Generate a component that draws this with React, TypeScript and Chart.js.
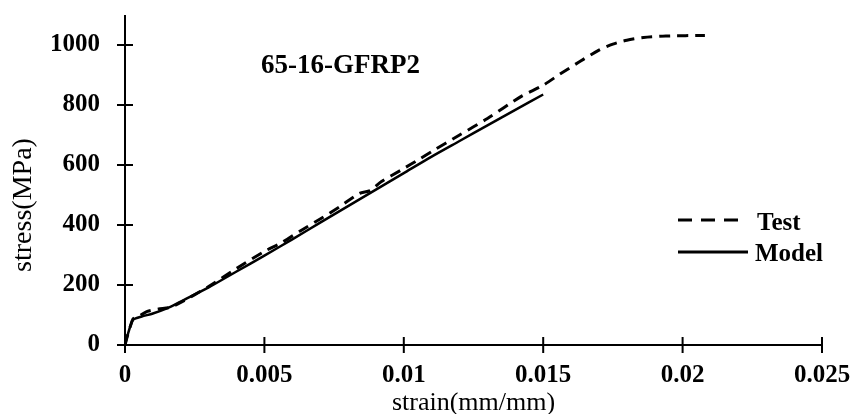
import { useEffect, useRef } from "react";
import { Chart, registerables } from "chart.js";

Chart.register(...registerables);

// Measured stress–strain curve of specimen 65-16-GFRP2
const testStrain = [0, 0.0001, 0.0002, 0.0003, 0.0005, 0.0008, 0.0012, 0.0016, 0.002, 0.003, 0.004, 0.005, 0.0056, 0.0063, 0.007, 0.0077, 0.0084, 0.0088, 0.0092, 0.0099, 0.0106, 0.011, 0.012, 0.013, 0.0142, 0.015, 0.0156, 0.0163, 0.017, 0.0175, 0.018, 0.0186, 0.0194, 0.0208];
const testStress = [0, 35, 65, 88, 96, 112, 120, 125, 142, 195, 255, 312, 340, 381, 420, 461, 505, 515, 545, 583, 622, 645, 700, 755, 828, 866, 903, 944, 983, 1003, 1016, 1025, 1030, 1032];

// Predicted curve
const modelStrain = [0, 0.0001, 0.0002, 0.0003, 0.0006, 0.001, 0.0015, 0.002, 0.003, 0.004, 0.005, 0.006, 0.007, 0.008, 0.009, 0.01, 0.011, 0.012, 0.013, 0.014, 0.015];
const modelStress = [0, 35, 65, 85, 95, 105, 122, 145, 192, 245, 298, 352, 408, 463, 518, 573, 628, 680, 732, 784, 835];

const xTicks = [0, 0.005, 0.01, 0.015, 0.02, 0.025];
const xTickLabels = ["0", "0.005", "0.01", "0.015", "0.02", "0.025"];
const yTicks = [0, 200, 400, 600, 800, 1000];
const yTickLabels = ["0", "200", "400", "600", "800", "1000"];
const xMax = 0.025;
const yMax = 1100;

const seriesNames = ["Test", "Model"];
const specimen = "65-16-GFRP2";
const xTitle = "strain(mm/mm)";
const yTitle = "stress(MPa)";

const SERIF = "'Liberation Serif', 'Times New Roman', serif";

const framePlugin = {
  id: "frame",
  beforeDatasetsDraw(chart: any) {
    const { ctx, scales } = chart;
    const x = scales.x;
    const y = scales.y;
    const x0 = x.getPixelForValue(0);
    const y0 = y.getPixelForValue(0);
    const xEnd = x.getPixelForValue(xMax);
    const yTop = y.getPixelForValue(yMax);
    const t = 8;
    ctx.save();
    ctx.strokeStyle = "#000";
    ctx.lineWidth = 2;
    ctx.beginPath();
    ctx.moveTo(x0, yTop);
    ctx.lineTo(x0, y0 + t);
    ctx.moveTo(x0 - t, y0);
    ctx.lineTo(xEnd, y0);
    yTicks.forEach((v) => {
      const p = y.getPixelForValue(v);
      ctx.moveTo(x0 - t, p);
      ctx.lineTo(x0 + t, p);
    });
    xTicks.forEach((v) => {
      const p = x.getPixelForValue(v);
      ctx.moveTo(p, y0 - t);
      ctx.lineTo(p, y0 + t);
    });
    ctx.stroke();
    ctx.restore();
  },
  afterDraw(chart: any) {
    const { ctx, scales } = chart;
    const x = scales.x;
    ctx.save();
    ctx.fillStyle = "#000";
    ctx.strokeStyle = "#000";

    // specimen name
    ctx.font = `bold 27px ${SERIF}`;
    ctx.textAlign = "left";
    ctx.textBaseline = "alphabetic";
    ctx.fillText(specimen, 261, 73);

    // axis titles
    ctx.font = `26px ${SERIF}`;
    ctx.textAlign = "center";
    ctx.fillText(xTitle, (x.left + x.right) / 2, 410);
    ctx.save();
    ctx.translate(31, 205);
    ctx.rotate(-Math.PI / 2);
    ctx.font = `28px ${SERIF}`;
    ctx.fillText(yTitle, 0, 0);
    ctx.restore();

    // legend
    const rows = [
      { y: 220, text: 230, dash: [14, 9], width: 3, x1: 678, x2: 738, tx: 757 },
      { y: 252, text: 261, dash: [], width: 3, x1: 678, x2: 748, tx: 755 },
    ];
    ctx.font = `bold 25px ${SERIF}`;
    ctx.textAlign = "left";
    rows.forEach((r, i) => {
      ctx.beginPath();
      ctx.setLineDash(r.dash);
      ctx.lineWidth = r.width;
      ctx.moveTo(r.x1, r.y);
      ctx.lineTo(r.x2, r.y);
      ctx.stroke();
      ctx.setLineDash([]);
      ctx.fillText(seriesNames[i], r.tx, r.text);
    });
    ctx.restore();
  },
};

export default function App() {
  const canvasRef = useRef<HTMLCanvasElement | null>(null);

  useEffect(() => {
    document.body.style.margin = "0";
    const canvas = canvasRef.current;
    if (!canvas) return;
    const chart = new Chart(canvas, {
      type: "line",
      data: {
        datasets: [
          {
            label: seriesNames[0],
            data: testStrain.map((s, i) => ({ x: s, y: testStress[i] })),
            borderColor: "#000",
            borderWidth: 3,
            borderDash: [11, 7],
            pointRadius: 0,
            tension: 0.25,
            fill: false,
          },
          {
            label: seriesNames[1],
            data: modelStrain.map((s, i) => ({ x: s, y: modelStress[i] })),
            borderColor: "#000",
            borderWidth: 2.5,
            pointRadius: 0,
            tension: 0.25,
            fill: false,
          },
        ],
      },
      options: {
        responsive: false,
        animation: false,
        layout: { padding: { top: 15, right: 31, left: 0, bottom: 0 } },
        plugins: {
          legend: { display: false },
          tooltip: { enabled: false },
          title: { display: false },
        },
        scales: {
          x: {
            type: "linear",
            min: 0,
            max: xMax,
            grid: { display: false, drawTicks: false },
            border: { display: false },
            afterBuildTicks: (s: any) => {
              s.ticks = xTicks.map((v) => ({ value: v }));
            },
            afterFit: (s: any) => {
              s.height = 69;
              s.paddingLeft = 0;
              s.paddingRight = 0;
              s.paddingTop = 0;
              s.paddingBottom = 0;
            },
            ticks: {
              autoSkip: false,
              maxRotation: 0,
              padding: 16,
              color: "#000",
              font: { family: SERIF, weight: "bold", size: 25 },
              callback: (_v: any, i: number) => xTickLabels[i],
            },
          },
          y: {
            type: "linear",
            min: 0,
            max: yMax,
            grid: { display: false, drawTicks: false },
            border: { display: false },
            afterBuildTicks: (s: any) => {
              s.ticks = yTicks.map((v) => ({ value: v }));
            },
            afterFit: (s: any) => {
              s.width = 125;
              s.paddingLeft = 0;
              s.paddingRight = 0;
              s.paddingTop = 0;
              s.paddingBottom = 0;
            },
            ticks: {
              autoSkip: false,
              padding: 25,
              color: "#000",
              font: { family: SERIF, weight: "bold", size: 25 },
              callback: (_v: any, i: number) => yTickLabels[i],
            },
          },
        },
      },
      plugins: [framePlugin],
    } as any);
    return () => chart.destroy();
  }, []);

  return (
    <div style={{ width: 853, height: 414 }}>
      <canvas ref={canvasRef} width={853} height={414} style={{ display: "block" }} />
    </div>
  );
}
